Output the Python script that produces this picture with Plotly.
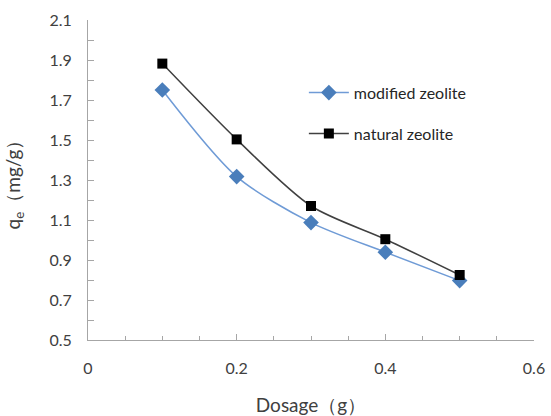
import plotly.graph_objects as go

# Adsorption capacity vs. adsorbent dosage
dosage = [0.1, 0.2, 0.3, 0.4, 0.5]
modified_qe = [1.75, 1.317, 1.087, 0.939, 0.797]
natural_qe = [1.882, 1.503, 1.17, 1.004, 0.825]

font_family = "Lato, Open Sans, sans-serif"
axis_grey = "#a6a6a6"

fig = go.Figure()
fig.add_trace(go.Scatter(
    x=dosage, y=modified_qe, name="modified zeolite", legendgroup="modified",
    mode="lines+markers", line=dict(color="#6f9bd6", width=1.5, shape="spline", smoothing=0.8),
    marker=dict(symbol="diamond", size=12, color="#4a7ebb"),
))
fig.add_trace(go.Scatter(
    x=dosage, y=natural_qe, name="natural zeolite", legendgroup="natural",
    mode="lines+markers", line=dict(color="#404040", width=1.5, shape="spline", smoothing=0.8),
    marker=dict(symbol="square", size=10, color="#000000"),
))

fig.update_layout(
    width=551, height=416,
    margin=dict(l=88, r=17, t=20, b=76),
    paper_bgcolor="white", plot_bgcolor="white",
    font=dict(family=font_family, size=16, color="#404040"),
    showlegend=True,
    legend=dict(x=0.484, y=0.826, xanchor="left", yanchor="top",
                bgcolor="rgba(0,0,0,0)", tracegroupgap=17, traceorder="grouped",
                font=dict(size=16, color="#262626"), itemwidth=40),
    xaxis=dict(
        range=[0, 0.6], dtick=0.2, tickformat="~g",
        showgrid=False, zeroline=False, automargin=False,
        showline=True, linecolor=axis_grey, linewidth=1, mirror=False,
        ticks="inside", ticklen=6, tickcolor=axis_grey,
        minor=dict(dtick=0.05, ticks="inside", ticklen=4, tickcolor=axis_grey),
        ticklabelstandoff=14,
        title=dict(text="Dosage（g）", standoff=22),
    ),
    yaxis=dict(
        range=[0.5, 2.1], dtick=0.2, tick0=0.5, tickformat=".1f",
        showgrid=False, zeroline=False, automargin=False,
        showline=True, linecolor=axis_grey, linewidth=1,
        ticks="inside", ticklen=6, tickcolor=axis_grey,
        minor=dict(dtick=0.1, ticks="inside", ticklen=6, tickcolor=axis_grey),
        ticklabelstandoff=12,
        title=dict(text="q<sub>e</sub>（mg/g）", standoff=23),
    ),
)

fig.write_html("out.html")
